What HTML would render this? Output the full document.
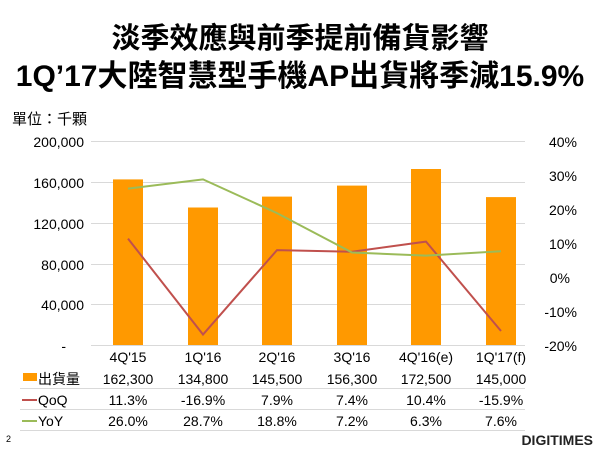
<!DOCTYPE html>
<html><head><meta charset="utf-8"><style>
body{margin:0;width:600px;height:450px;background:#fff;overflow:hidden;font-family:"Liberation Sans","Noto Sans CJK TC",sans-serif}
</style></head><body>
<svg width="600" height="450" xmlns="http://www.w3.org/2000/svg" font-family="Liberation Sans, Noto Sans CJK TC, sans-serif">
<text x="300" y="48" text-anchor="middle" font-size="29" font-weight="bold">淡季效應與前季提前備貨影響</text>
<text x="300" y="86" text-anchor="middle" font-size="30" font-weight="bold">1Q’17大陸智慧型手機AP出貨將季減15.9%</text>
<text x="12" y="124" font-size="15">單位：千顆</text>
<g stroke="#d9d9d9" stroke-width="1">
<line x1="91" x2="525" y1="141.5" y2="141.5"/><line x1="91" x2="525" y1="182.5" y2="182.5"/><line x1="91" x2="525" y1="223.5" y2="223.5"/><line x1="91" x2="525" y1="264.5" y2="264.5"/><line x1="91" x2="525" y1="304.5" y2="304.5"/><line x1="91" x2="525" y1="345.5" y2="345.5"/>
<line x1="20" x2="525" y1="388.5" y2="388.5"/><line x1="20" x2="525" y1="409.5" y2="409.5"/><line x1="20" x2="525" y1="430.5" y2="430.5"/>
</g>
<g font-size="14" text-anchor="end" fill="#000">
<text x="84" y="147">200,000</text><text x="84" y="188">160,000</text><text x="84" y="229">120,000</text><text x="84" y="270">80,000</text><text x="84" y="310">40,000</text><text x="66" y="351">-</text>
</g>
<g font-size="14" text-anchor="end">
<text x="577" y="147">40%</text><text x="577" y="181">30%</text><text x="577" y="215">20%</text><text x="577" y="249">10%</text><text x="570" y="283">0%</text><text x="577" y="317">-10%</text><text x="577" y="351">-20%</text>
</g>
<g fill="#ff9900">
<rect x="113" y="179.4" width="30" height="165.6"/>
<rect x="188" y="207.5" width="30" height="137.5"/>
<rect x="262" y="196.6" width="30" height="148.4"/>
<rect x="337" y="185.6" width="30" height="159.4"/>
<rect x="411" y="169" width="30" height="176"/>
<rect x="486" y="197.1" width="30" height="147.9"/>
</g>
<polyline fill="none" stroke="#c0504d" stroke-width="2" points="128,238.6 203,334.5 277,250.1 352,251.8 426,241.6 501,331"/>
<polyline fill="none" stroke="#9bbb59" stroke-width="2" points="128,188.6 203,179.4 277,213.1 352,252.5 426,255.6 501,251.2"/>
<g font-size="14" text-anchor="middle">
<text x="128" y="362">4Q'15</text><text x="203" y="362">1Q'16</text><text x="277" y="362">2Q'16</text><text x="352" y="362">3Q'16</text><text x="426" y="362">4Q'16(e)</text><text x="501" y="362">1Q'17(f)</text>
<text x="128" y="384">162,300</text><text x="203" y="384">134,800</text><text x="277" y="384">145,500</text><text x="352" y="384">156,300</text><text x="426" y="384">172,500</text><text x="501" y="384">145,000</text>
<text x="128" y="405">11.3%</text><text x="203" y="405">-16.9%</text><text x="277" y="405">7.9%</text><text x="352" y="405">7.4%</text><text x="426" y="405">10.4%</text><text x="501" y="405">-15.9%</text>
<text x="128" y="426">26.0%</text><text x="203" y="426">28.7%</text><text x="277" y="426">18.8%</text><text x="352" y="426">7.2%</text><text x="426" y="426">6.3%</text><text x="501" y="426">7.6%</text>
</g>
<rect x="23" y="373" width="14" height="8" fill="#ff9900"/>
<text x="38" y="384" font-size="14">出貨量</text>
<line x1="22" x2="37" y1="400" y2="400" stroke="#c0504d" stroke-width="2"/>
<text x="38" y="405" font-size="14">QoQ</text>
<line x1="22" x2="37" y1="421" y2="421" stroke="#9bbb59" stroke-width="2"/>
<text x="38" y="426" font-size="14">YoY</text>
<text x="6" y="442" font-size="9">2</text>
<text x="593" y="445" font-size="14" font-weight="bold" text-anchor="end" fill="#222">DIGITIMES</text>
</svg>
</body></html>
